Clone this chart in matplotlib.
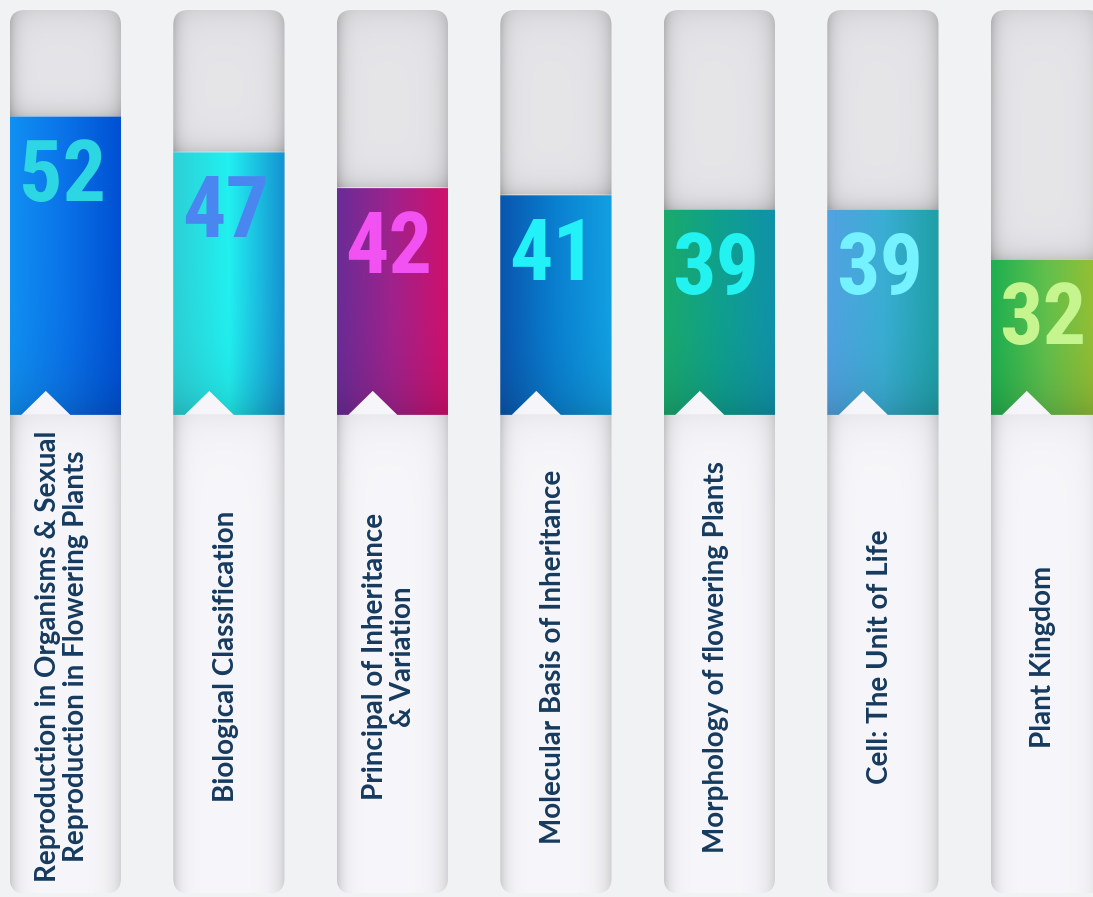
import numpy as np
import matplotlib.pyplot as plt
from matplotlib import font_manager as fm
from matplotlib.patches import FancyBboxPatch, Polygon
from matplotlib.colors import to_rgb

# chart data
topics = [
    "Reproduction in Organisms & Sexual\nReproduction in Flowering Plants",
    "Biological Classification",
    "Principal of Inheritance\n& Variation",
    "Molecular Basis of Inheritance",
    "Morphology of flowering Plants",
    "Cell: The Unit of Life",
    "Plant Kingdom",
]
counts = [52, 47, 42, 41, 39, 39, 32]

# bar gradients (left, middle, right) and number colours
bar_left = ["#1090f2", "#2cd0d6", "#6a2c96", "#0a56ae", "#1aaa6c", "#52a2e2", "#1eb050"]
bar_mid = ["#0a72e8", "#22f0f0", "#a0228c", "#0a80d0", "#0fa08e", "#3aaed4", "#62c04c"]
bar_right = ["#0050d2", "#1592d2", "#d0106c", "#12a0e2", "#1092aa", "#1ea0a6", "#9ebf30"]
num_colors = ["#2cd6e2", "#4a86f0", "#f252f2", "#22f2f8", "#22f2f0", "#74f2ff", "#c6f48e"]

# layout (value units on y)
BASE = 10.3
Y_LO, Y_HI = -57.1, 68.3
COL_TOP, COL_BOT = 66.9, -56.6
W = 0.68
FIG_W, FIG_H = 10.93, 8.97
DPI = 100


def pick_number_font():
    entries = fm.fontManager.ttflist
    names = {f.name for f in entries}
    for name in ["Liberation Sans Narrow", "Roboto Condensed", "Open Sans Condensed",
                 "Noto Sans Condensed", "DejaVu Sans Condensed", "Arial Narrow"]:
        if name in names:
            return name, "normal", 62
    for fam in ["Roboto", "Noto Sans", "Open Sans", "DejaVu Sans", "Inter"]:
        for f in entries:
            if f.name == fam and f.stretch in ("condensed", "semi-condensed", "extra-condensed"):
                return fam, f.stretch, 62
    return "Roboto", "normal", 52


num_family, num_stretch, num_size = pick_number_font()

fig = plt.figure(figsize=(FIG_W, FIG_H), dpi=DPI, facecolor="#f1f2f4")
ax = fig.add_axes([0, 0, 1, 1])
ax.set_facecolor("#f1f2f4")
ax.axis("off")

px_y = FIG_H * DPI / (Y_HI - Y_LO)      # pixels per y unit
X_LO = -0.40
X_HI = X_LO + FIG_W * DPI / 163.5
px_x = 163.5


def column_image(top_val, ny=600, nx=90):
    ys = np.linspace(COL_TOP, COL_BOT, ny)
    u = np.linspace(0, 1, nx)
    upper = ys[:, None] > top_val
    base = np.where(upper, 0.9, 0.968)
    edge = 0.17 * np.exp(-u / 0.06) + 0.15 * np.exp(-(1 - u) / 0.08)
    val = base - edge[None, :]
    d_top = (COL_TOP - ys) * px_y
    val = val - 0.07 * np.exp(-d_top / 14)[:, None]
    d_bar = (ys - top_val) * px_y
    val = val - np.where(upper, 0.12 * np.exp(-np.abs(d_bar) / 10)[:, None], 0)
    d_low = (BASE - ys) * px_y
    val = val - np.where(ys < BASE, 0.05 * np.exp(-np.clip(d_low, 0, None) / 18), 0)[:, None]
    val = np.clip(val, 0, 1)
    img = np.dstack([val, val, val * 1.01 + 0.005])
    return np.clip(img, 0, 1)


def bar_image(i, v, ny=200, nx=90):
    c0, c1, c2 = (np.array(to_rgb(c)) for c in (bar_left[i], bar_mid[i], bar_right[i]))
    u = np.linspace(0, 1, nx)[:, None]
    left = np.clip(1 - 2 * u, 0, 1)
    right = np.clip(2 * u - 1, 0, 1)
    mid = 1 - left - right
    row = left * c0 + mid * c1 + right * c2
    ys = np.linspace(v, BASE, ny)
    dark = 1 - 0.15 * np.exp(-(ys - BASE) * px_y / 30)
    return np.clip(row[None, :, :] * dark[:, None, None], 0, 1)


r_x = 15 / px_x
for i, (topic, v) in enumerate(zip(topics, counts)):
    x = i
    # column shell
    shell = FancyBboxPatch((x - W / 2, COL_BOT), W, COL_TOP - COL_BOT,
                           boxstyle=f"round,pad=0,rounding_size={r_x}",
                           mutation_aspect=px_x / px_y,
                           facecolor="none", edgecolor="none")
    ax.add_patch(shell)
    im = ax.imshow(column_image(v), extent=[x - W / 2, x + W / 2, COL_BOT, COL_TOP],
                   aspect="auto", interpolation="bilinear", zorder=1)
    im.set_clip_path(shell)

    # coloured bar with notch
    nx0 = x - 0.12
    nh = 0.15
    notch = 24 / px_y
    pts = [(x - W / 2, v), (x + W / 2, v), (x + W / 2, BASE), (nx0 + nh, BASE),
           (nx0, BASE + notch), (nx0 - nh, BASE), (x - W / 2, BASE)]
    poly = Polygon(pts, closed=True, facecolor="none", edgecolor="none")
    ax.add_patch(poly)
    bim = ax.imshow(bar_image(i, v), extent=[x - W / 2, x + W / 2, BASE, v],
                    aspect="auto", interpolation="bilinear", zorder=2)
    bim.set_clip_path(poly)

    # value
    ax.text(x - 0.02, v - 11.8, str(v), ha="center", va="baseline",
            fontsize=num_size, fontweight="bold", fontstretch=num_stretch,
            color=num_colors[i], family=num_family, zorder=3)

    # topic label
    ax.text(x - 0.02, -23.5, topic, rotation=90, ha="center", va="center",
            multialignment="center", fontsize=20, fontweight="bold",
            color="#163a5e", family=["Lato", "DejaVu Sans"], linespacing=1.1,
            zorder=3)

ax.set_xlim(X_LO, X_HI)
ax.set_ylim(Y_LO, Y_HI)
ax.set_aspect("auto")

fig.savefig("out.png", dpi=DPI, facecolor=fig.get_facecolor())
